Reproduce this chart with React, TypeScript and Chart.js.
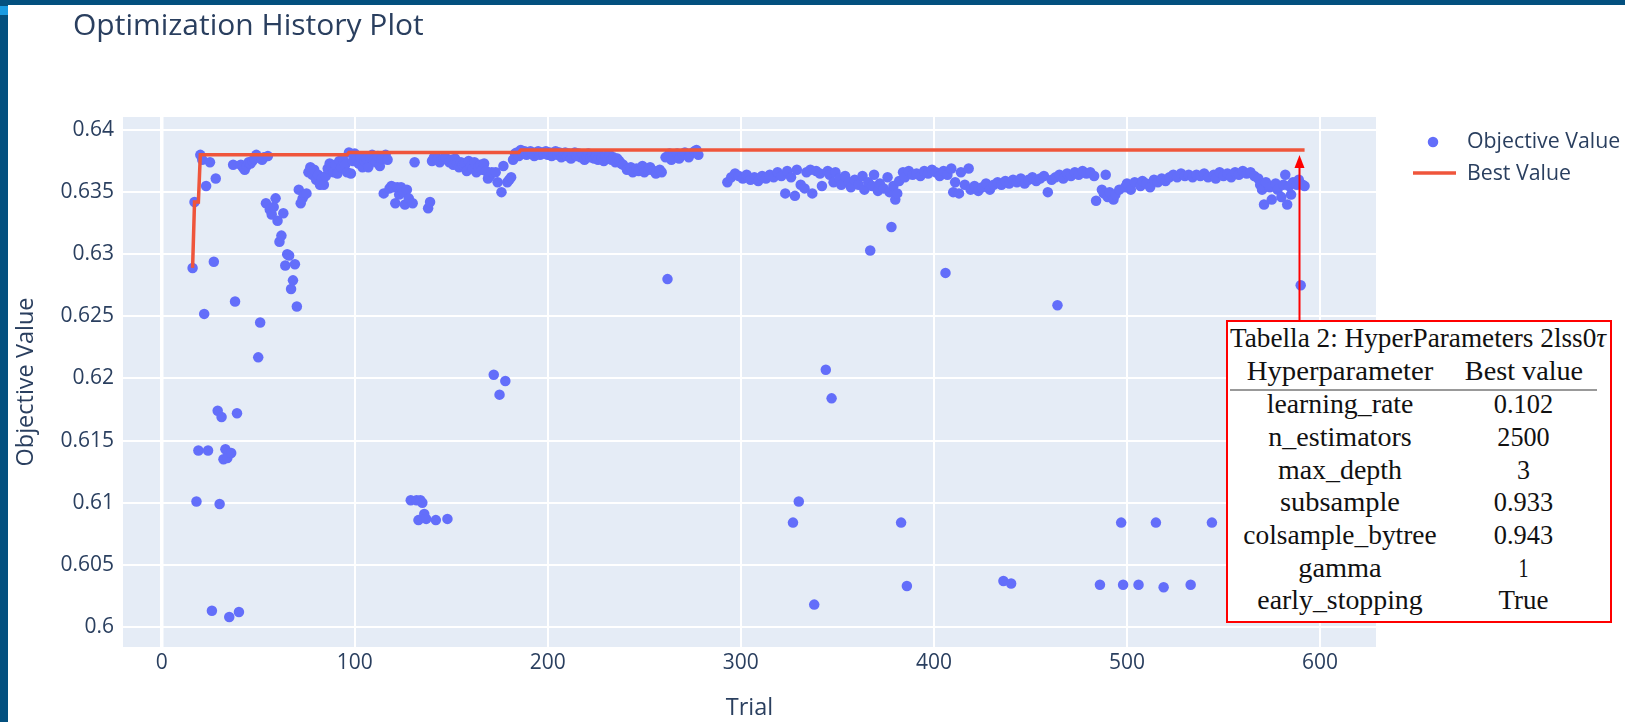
import { useEffect, useRef } from "react";
import { Chart, registerables } from "chart.js";

Chart.register(...registerables);

// ---------- data ----------
const earlyTrials = [
  16, 17, 18, 19, 20, 21, 22, 23, 24, 25,
  26, 27, 28, 29, 30, 31, 32, 33, 34, 35,
  36, 37, 38, 39, 40, 41, 42, 43, 44, 45,
  46, 47, 48, 49, 50, 51, 52, 53, 54, 55,
  56, 57, 58, 59, 60, 61, 62, 63, 64, 65,
  66, 67, 68, 69, 70, 71, 72, 73, 74, 75,
  76, 77, 78, 79, 80, 81, 82, 83, 84, 85,
  86, 87, 88, 89, 90, 91, 92, 93, 94, 95,
  96, 97, 98, 99, 100, 101, 102, 103, 104, 105,
  106, 107, 108, 109, 110, 111, 112, 113, 114, 115,
  116, 117, 118, 119, 120, 121, 122, 123, 124, 125,
  126, 127, 128, 129, 130, 131, 132, 133, 134, 135,
  136, 137, 138, 139, 140, 141, 142, 143, 144, 145,
  146, 147, 148, 149, 150, 151, 152, 153, 154, 155,
  156, 157, 158, 159, 160, 161, 162, 163, 164, 165,
  166, 167, 168, 169, 170, 171, 172, 173, 174, 175,
  176, 177, 178, 179, 180, 181, 182, 183, 184, 185,
];
const earlyValues = [
  0.6289, 0.6342, 0.6101, 0.6142, 0.638, 0.6376, 0.6252, 0.6355, 0.6142, 0.6374,
  0.6013, 0.6294, 0.6361, 0.6174, 0.6099, 0.6169, 0.6135, 0.6143, 0.6136, 0.6008,
  0.614, 0.6372, 0.6262, 0.6172, 0.6012, 0.6372, 0.637, 0.6368, 0.6371, 0.6374,
  0.6373, 0.6375, 0.6377, 0.638, 0.6217, 0.6245, 0.6376, 0.6378, 0.6341, 0.6379,
  0.6336, 0.6332, 0.6338, 0.6345, 0.6327, 0.631, 0.6315, 0.6333, 0.6291, 0.63,
  0.6299, 0.6272, 0.6279, 0.6292, 0.6258, 0.6352, 0.6341, 0.6345, 0.6348, 0.6349,
  0.6366, 0.637, 0.6364, 0.6368, 0.636, 0.6364, 0.6356, 0.6361, 0.6356, 0.6363,
  0.6369, 0.6373, 0.637, 0.6366, 0.6372, 0.6365, 0.6375, 0.637, 0.6376, 0.6372,
  0.6366, 0.6382, 0.6365, 0.6375, 0.6381, 0.6376, 0.6373, 0.6378, 0.637, 0.6375,
  0.6377, 0.637, 0.6378, 0.638, 0.6376, 0.6374, 0.6379, 0.6371, 0.6377, 0.6349,
  0.638, 0.6376, 0.6353, 0.6355, 0.6354, 0.6341, 0.6354, 0.6348, 0.6354, 0.635,
  0.634, 0.6352, 0.6345, 0.6102, 0.6341, 0.6374, 0.6102, 0.6086, 0.6102, 0.61,
  0.6091, 0.6087, 0.6337, 0.6342, 0.6375, 0.6378, 0.6086, 0.6377, 0.6374, 0.6376,
  0.6377, 0.6378, 0.6087, 0.6374, 0.6376, 0.6372, 0.6377, 0.6373, 0.637, 0.6374,
  0.6372, 0.6373, 0.6367, 0.6375, 0.6371, 0.6369, 0.6374, 0.6366, 0.637, 0.6372,
  0.6368, 0.6373, 0.6367, 0.6361, 0.6363, 0.6366, 0.6203, 0.6366, 0.6358, 0.6187,
  0.635, 0.6371, 0.6198, 0.6358, 0.636, 0.6362, 0.6376, 0.6381, 0.6382, 0.6379,
];

const midTrials = [
  186, 187, 188, 189, 190, 191, 192, 193, 194, 195,
  196, 197, 198, 199, 200, 201, 202, 203, 204, 205,
  206, 207, 208, 209, 210, 211, 212, 213, 214, 215,
  216, 217, 218, 219, 220, 221, 222, 223, 224, 225,
  226, 227, 228, 229, 230, 231, 232, 233, 234, 235,
  236, 237, 238, 239, 241, 243, 244, 246, 247, 249,
  250, 252, 253, 255, 256, 258, 259, 261, 262, 263,
  264, 265, 267, 268, 270, 271, 273, 274, 276, 277,
  278,
];
const midValues = [
  0.6384, 0.6381, 0.6383, 0.638, 0.6382, 0.6383, 0.6381, 0.6379, 0.6382, 0.6383,
  0.638, 0.6382, 0.6381, 0.6383, 0.638, 0.6382, 0.6379, 0.6381, 0.6383, 0.638,
  0.6382, 0.6378, 0.6381, 0.6382, 0.6379, 0.6381, 0.6377, 0.638, 0.6382, 0.6379,
  0.6381, 0.6378, 0.638, 0.6376, 0.6379, 0.6381, 0.6378, 0.638, 0.6377, 0.6379,
  0.6376, 0.638, 0.6378, 0.6375, 0.6379, 0.6377, 0.638, 0.6376, 0.6378, 0.6374,
  0.6377, 0.6375, 0.6373, 0.6372, 0.6368, 0.637, 0.6366, 0.6369, 0.6367, 0.6371,
  0.6366, 0.6368, 0.637, 0.6367, 0.6365, 0.6368, 0.6366, 0.6378, 0.628, 0.6381,
  0.6376, 0.6379, 0.6381, 0.6377, 0.638, 0.6382, 0.6378, 0.6381, 0.6383, 0.6384,
  0.638,
];

const lateTrials = [
  293, 295, 297, 299, 301, 303, 305, 307, 309, 311,
  313, 315, 317, 319, 321, 323, 324, 326, 327, 328,
  329, 330, 331, 333, 334, 336, 337, 338, 339, 341,
  342, 344, 345, 346, 347, 348, 349, 351, 352, 354,
  356, 357, 359, 361, 363, 364, 366, 367, 368, 369,
  371, 372, 374, 376, 377, 378, 379, 380, 381, 382,
  383, 384, 385, 386, 387, 389, 391, 393, 395, 397,
  399, 401, 403, 405, 406, 407, 409, 410, 411, 413,
  414, 416, 418, 419, 421, 423, 425, 427, 429, 431,
  433, 435, 436, 437, 439, 440, 441, 443, 445, 447,
  449, 451, 453, 455, 457, 459, 461, 463, 464, 465,
  467, 469, 471, 473, 475, 477, 479, 481, 483, 484,
  486, 487, 488, 489, 490, 491, 493, 494, 496, 497,
  498, 499, 500, 502, 504, 506, 507, 508, 510, 512,
  514, 515, 516, 518, 519, 520, 522, 524, 526, 528,
  530, 532, 533, 534, 536, 538, 540, 542, 544, 545,
  546, 548, 550, 552, 554, 556, 558, 560, 562, 564,
  566, 568, 569, 570, 571, 572, 574, 575, 577, 578,
  580, 581, 582, 583, 584, 585, 586, 588, 589, 590,
  591, 592,
];
const lateValues = [
  0.6358, 0.6362, 0.6365, 0.6363, 0.6361, 0.6364, 0.636, 0.6362, 0.6359, 0.6363,
  0.6361, 0.6364, 0.6362, 0.6366, 0.6363, 0.6349, 0.6367, 0.6362, 0.6084, 0.6347,
  0.6368, 0.6101, 0.6356, 0.6353, 0.6366, 0.6368, 0.6349, 0.6018, 0.6367, 0.6365,
  0.6355, 0.6207, 0.6367, 0.6364, 0.6184, 0.6358, 0.6366, 0.6361, 0.6356, 0.6363,
  0.6358, 0.6354, 0.636, 0.6356, 0.6363, 0.6352, 0.6358, 0.6303, 0.6355, 0.6364,
  0.6351, 0.6357, 0.6353, 0.6362, 0.635, 0.6322, 0.6355, 0.6344, 0.6349, 0.6359,
  0.6084, 0.6366, 0.6362, 0.6033, 0.6367, 0.6364, 0.6365, 0.6363, 0.6367, 0.6365,
  0.6368, 0.6366, 0.6363, 0.6367, 0.6285, 0.6364, 0.6369, 0.635, 0.6358, 0.6349,
  0.6366, 0.6356, 0.6369, 0.6352, 0.6355, 0.6351, 0.6354, 0.6357, 0.6352, 0.6356,
  0.6358, 0.6356, 0.6037, 0.6359, 0.6357, 0.6035, 0.636, 0.6358, 0.6361, 0.6357,
  0.636, 0.6362, 0.6359, 0.6361, 0.6363, 0.635, 0.636, 0.6362, 0.6259, 0.6364,
  0.6361, 0.6365, 0.6363, 0.6366, 0.6364, 0.6367, 0.6365, 0.6366, 0.6363, 0.6343,
  0.6034, 0.6352, 0.6349, 0.6364, 0.6346, 0.635, 0.6344, 0.6348, 0.6352, 0.6084,
  0.6034, 0.6354, 0.6357, 0.6352, 0.6358, 0.6034, 0.6355, 0.6359, 0.6357, 0.6354,
  0.636, 0.6084, 0.6358, 0.6361, 0.6032, 0.6359, 0.6362, 0.6364, 0.6362, 0.6365,
  0.6363, 0.6364, 0.6034, 0.6362, 0.6364, 0.6363, 0.6365, 0.6362, 0.6084, 0.6364,
  0.6361, 0.6366, 0.6363, 0.6365, 0.6362, 0.6366, 0.6364, 0.6367, 0.6365, 0.6366,
  0.6363, 0.6361, 0.6356, 0.6352, 0.634, 0.6358, 0.6354, 0.6344, 0.6357, 0.6352,
  0.6346, 0.6356, 0.6364, 0.634, 0.6355, 0.6348, 0.6358, 0.6356, 0.636, 0.6275,
  0.6356, 0.6355,
];

const bestTrials = [16, 17, 19, 20, 96, 97, 185, 186, 592];
const bestValues = [0.6289, 0.6342, 0.6342, 0.638, 0.638, 0.6382, 0.6382, 0.6384, 0.6384];

const xTickValues = [0, 100, 200, 300, 400, 500, 600];
const xTickLabels = ["0", "100", "200", "300", "400", "500", "600"];
const yTickValues = [0.6, 0.605, 0.61, 0.615, 0.62, 0.625, 0.63, 0.635, 0.64];
const yTickLabels = ["0.6", "0.605", "0.61", "0.615", "0.62", "0.625", "0.63", "0.635", "0.64"];

const tableCaption = "Tabella 2: HyperParameters 2lss0";
const tableHeaders = ["Hyperparameter", "Best value"];
const paramNames = ["learning_rate", "n_estimators", "max_depth", "subsample", "colsample_bytree", "gamma", "early_stopping"];
const paramBest = ["0.102", "2500", "3", "0.933", "0.943", "1", "True"];

// ---------- styling ----------
const W = 1625;
const H = 722;
const X_MIN = -20.05;
const X_MAX = 629;
const Y_MIN = 0.598387;
const Y_MAX = 0.641048;
const FONT = "'Open Sans', 'Noto Sans', sans-serif";
const TEXT = "#2a3f5f";
const PLOT_BG = "#E5ECF6";
const MARKER = "#636EFA";
const LINE = "#EF553B";

function toPoints(xs: number[], ys: number[]) {
  const n = Math.min(xs.length, ys.length);
  const out: { x: number; y: number }[] = [];
  for (let i = 0; i < n; i++) out.push({ x: xs[i], y: ys[i] });
  return out;
}

export default function App() {
  const ref = useRef<HTMLCanvasElement>(null);

  useEffect(() => {
    const canvas = ref.current;
    if (!canvas) return;

    const decor = {
      id: "decor",
      beforeDraw(chart: any) {
        const { ctx, chartArea: a } = chart;
        ctx.save();
        ctx.fillStyle = "#ffffff";
        ctx.fillRect(0, 0, W, H);
        ctx.fillStyle = PLOT_BG;
        ctx.fillRect(a.left, a.top, a.right - a.left, a.bottom - a.top);
        ctx.restore();
      },
      afterDraw(chart: any) {
        const ctx = chart.ctx as CanvasRenderingContext2D;
        ctx.save();
        // slide frame
        ctx.fillStyle = "#03507f";
        ctx.fillRect(0, 0, W, 5);
        ctx.fillRect(0, 0, 8, H);
        ctx.fillStyle = "#1a9be2";
        ctx.fillRect(0, 6, 8, 9);

        // title
        ctx.fillStyle = TEXT;
        ctx.font = `30px ${FONT}`;
        ctx.textBaseline = "alphabetic";
        ctx.textAlign = "left";
        ctx.fillText("Optimization History Plot", 73, 35);

        // legend
        ctx.beginPath();
        ctx.arc(1433, 142, 5.25, 0, Math.PI * 2);
        ctx.fillStyle = MARKER;
        ctx.fill();
        ctx.beginPath();
        ctx.moveTo(1413, 173);
        ctx.lineTo(1456, 173);
        ctx.strokeStyle = LINE;
        ctx.lineWidth = 3.5;
        ctx.stroke();
        ctx.fillStyle = TEXT;
        ctx.font = `21.3px ${FONT}`;
        ctx.textBaseline = "middle";
        ctx.fillText("Objective Value", 1467, 142);
        ctx.fillText("Best Value", 1467, 173.5);

        // red arrow
        ctx.strokeStyle = "#ff0000";
        ctx.lineWidth = 2;
        ctx.beginPath();
        ctx.moveTo(1299.5, 321);
        ctx.lineTo(1299.5, 165);
        ctx.stroke();
        ctx.fillStyle = "#ff0000";
        ctx.beginPath();
        ctx.moveTo(1299.5, 155);
        ctx.lineTo(1294.5, 168);
        ctx.lineTo(1304.5, 168);
        ctx.closePath();
        ctx.fill();
        ctx.restore();
      },
    };

    const chart = new Chart(canvas, {
      type: "scatter",
      data: {
        datasets: [
          {
            label: "Best Value",
            data: toPoints(bestTrials, bestValues),
            showLine: true,
            borderColor: LINE,
            borderWidth: 3.5,
            pointRadius: 0,
            tension: 0,
            fill: false,
            order: 0,
          },
          {
            label: "Objective Value",
            data: [
              ...toPoints(earlyTrials, earlyValues),
              ...toPoints(midTrials, midValues),
              ...toPoints(lateTrials, lateValues),
            ],
            backgroundColor: MARKER,
            borderWidth: 0,
            pointRadius: 5.25,
            order: 1,
          },
        ],
      },
      options: {
        animation: false,
        responsive: false,
        devicePixelRatio: 1,
        layout: { padding: { left: 0, top: 117, right: 249, bottom: 0 } },
        plugins: {
          legend: { display: false },
          tooltip: { enabled: false },
          title: { display: false },
        },
        scales: {
          x: {
            type: "linear",
            min: X_MIN,
            max: X_MAX,
            afterBuildTicks: (s: any) => {
              s.ticks = xTickValues.map((v) => ({ value: v }));
            },
            afterFit: (s: any) => {
              s.height = 75;
            },
            ticks: {
              callback: (_v: any, i: number) => xTickLabels[i],
              color: TEXT,
              font: { family: FONT, size: 21 },
              padding: 3,
              maxRotation: 0,
              autoSkip: false,
            },
            grid: {
              color: "#ffffff",
              lineWidth: (c: any) => (c.tick && c.tick.value === 0 ? 3.5 : 2),
              drawTicks: false,
            },
            border: { display: false },
            title: {
              display: true,
              text: "Trial",
              color: TEXT,
              font: { family: FONT, size: 23.5 },
              padding: { top: 0, bottom: 0 },
            },
          },
          y: {
            type: "linear",
            min: Y_MIN,
            max: Y_MAX,
            afterBuildTicks: (s: any) => {
              s.ticks = yTickValues.map((v) => ({ value: v }));
            },
            afterFit: (s: any) => {
              s.width = 123;
            },
            ticks: {
              callback: (_v: any, i: number) => yTickLabels[i],
              color: TEXT,
              font: { family: FONT, size: 21 },
              padding: 9,
              autoSkip: false,
            },
            grid: { color: "#ffffff", lineWidth: 2, drawTicks: false },
            border: { display: false },
            title: {
              display: true,
              text: "Objective Value",
              color: TEXT,
              font: { family: FONT, size: 23.5 },
              padding: { top: 12, bottom: 0 },
            },
          },
        },
      },
      plugins: [decor],
    } as any);

    return () => chart.destroy();
  }, []);

  const serif = "'Liberation Serif', 'Times New Roman', serif";
  const rowBase = [93.3, 126, 158.5, 191, 224, 256.5, 289];
  const nameLen = [146.6, 143.4, 124, 120, 193.4, 83.4, 165.4];
  const bestLen = [59.4, 52.3, 13, 59.4, 59.4, 10, 50];

  return (
    <div style={{ position: "fixed", left: 0, top: 0, width: W, height: H, background: "#fff" }}>
      <canvas ref={ref} width={W} height={H} style={{ display: "block", width: W, height: H }} />
      <svg
        width={386}
        height={303}
        style={{ position: "absolute", left: 1226, top: 320, overflow: "visible" }}
        fontFamily={serif}
        fontSize={28}
        fill="#111"
      >
        <rect x={1} y={1} width={384} height={301} fill="#ffffff" stroke="#ff0000" strokeWidth={2} />
        <text x={4} y={26.7} textLength={376} lengthAdjust="spacingAndGlyphs">
          {tableCaption}
          <tspan fontStyle="italic">τ</tspan>
        </text>
        <text x={114} y={60} textAnchor="middle" textLength={186.7} lengthAdjust="spacingAndGlyphs">
          {tableHeaders[0]}
        </text>
        <text x={298} y={60} textAnchor="middle" textLength={118.3} lengthAdjust="spacingAndGlyphs">
          {tableHeaders[1]}
        </text>
        <line x1={4} x2={371} y1={70} y2={70} stroke="#777" strokeWidth={1.5} />
        {paramNames.map((n, i) => (
          <text key={n} x={114} y={rowBase[i]} textAnchor="middle" textLength={nameLen[i]} lengthAdjust="spacingAndGlyphs">
            {n}
          </text>
        ))}
        {paramBest.map((b, i) => (
          <text key={"b" + i} x={297.5} y={rowBase[i]} textAnchor="middle" textLength={bestLen[i]} lengthAdjust="spacingAndGlyphs">
            {b}
          </text>
        ))}
      </svg>
    </div>
  );
}
